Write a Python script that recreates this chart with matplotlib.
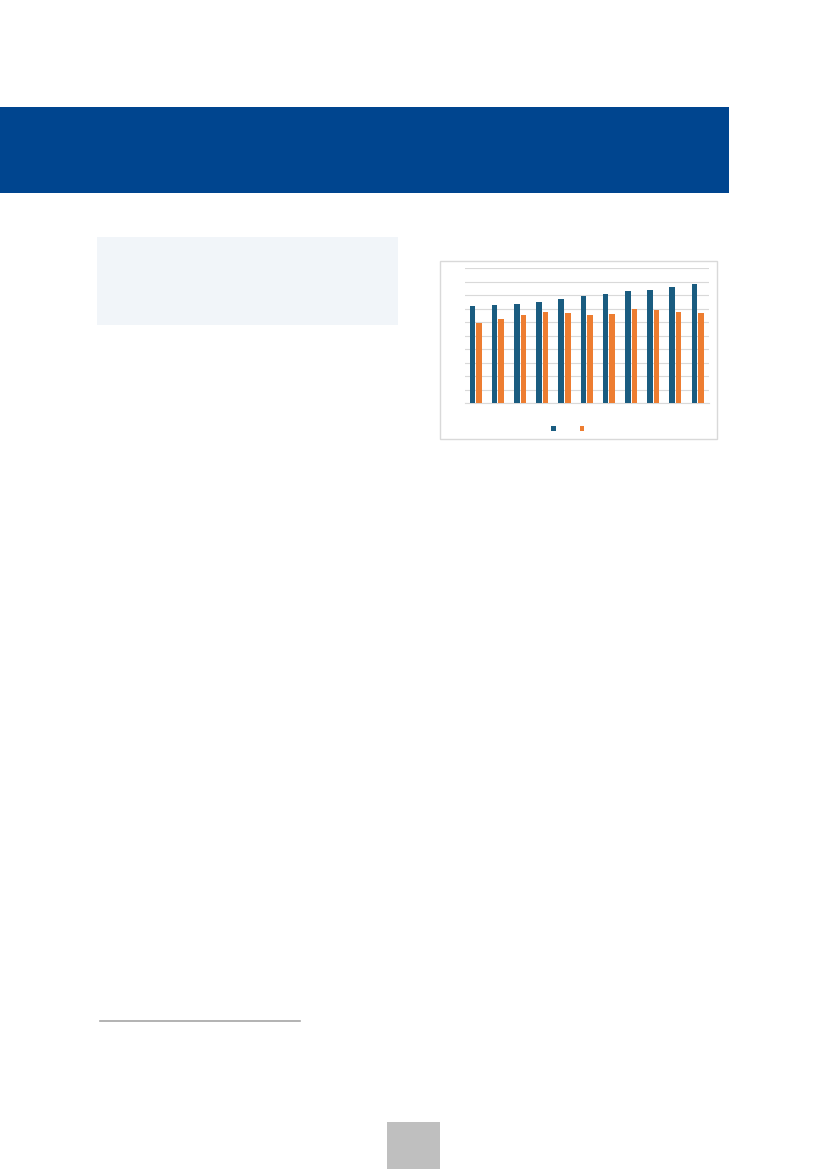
import matplotlib
matplotlib.use("Agg")
import matplotlib.pyplot as plt
from matplotlib.patches import Rectangle
import numpy as np

# values (scale 0-10, gridline every 1)
series_a = [7.18, 7.28, 7.38, 7.50, 7.72, 7.92, 8.12, 8.32, 8.39, 8.61, 8.84]
series_b = [5.97, 6.21, 6.51, 6.73, 6.66, 6.51, 6.61, 6.98, 6.91, 6.73, 6.68]
categories = list(range(len(series_a)))

blue = "#1A5C80"
orange = "#ED7D31"
W, H = 827, 1169


def px_rect(fig, x0, y0, x1, y1, color, **kw):
    # rectangle given in page pixels (top-left origin)
    r = Rectangle((x0 / W, 1 - y1 / H), (x1 - x0) / W, (y1 - y0) / H,
                  transform=fig.transFigure, facecolor=color, **kw)
    fig.patches.append(r)
    return r


fig = plt.figure(figsize=(W / 100, H / 100), dpi=100)

# page decoration
px_rect(fig, 0, 107, 729, 193, "#00458F", edgecolor="none")
px_rect(fig, 97, 237, 398, 325, "#F1F5F9", edgecolor="none")
px_rect(fig, 387, 1122, 440, 1169, "#BFBFBF", edgecolor="none")
fig.add_artist(plt.Line2D([100 / W, 300 / W], [1 - 1021 / H] * 2,
                          transform=fig.transFigure, color="#A6A6A6", lw=1.2))

# chart frame
px_rect(fig, 440, 261, 717, 439, "none", edgecolor="#D9D9D9", lw=1.0)

ax = fig.add_axes([465 / W, 1 - 403 / H, 244 / W, (403 - 268.3) / H])
x = np.array(categories)
bw = 0.25
ax.bar(x + 0.34, series_a, width=bw, color=blue, zorder=3)
ax.bar(x + 0.635, series_b, width=bw, color=orange, zorder=3)

ax.set_xlim(0, len(categories))
ax.set_ylim(0, 10)
ax.set_yticks(range(0, 11))
ax.grid(axis="y", color="#D9D9D9", lw=0.8, zorder=0)
for s in ["top", "right", "left"]:
    ax.spines[s].set_visible(False)
ax.spines["bottom"].set_color("#D9D9D9")
ax.spines["bottom"].set_linewidth(0.8)
ax.tick_params(left=False, bottom=False, labelleft=False, labelbottom=False)

# legend keys (labels not shown in the reference)
px_rect(fig, 551, 426, 555.5, 430.5, blue, edgecolor="none")
px_rect(fig, 579.5, 426, 584, 430.5, orange, edgecolor="none")

fig.savefig("out.png", dpi=100)
